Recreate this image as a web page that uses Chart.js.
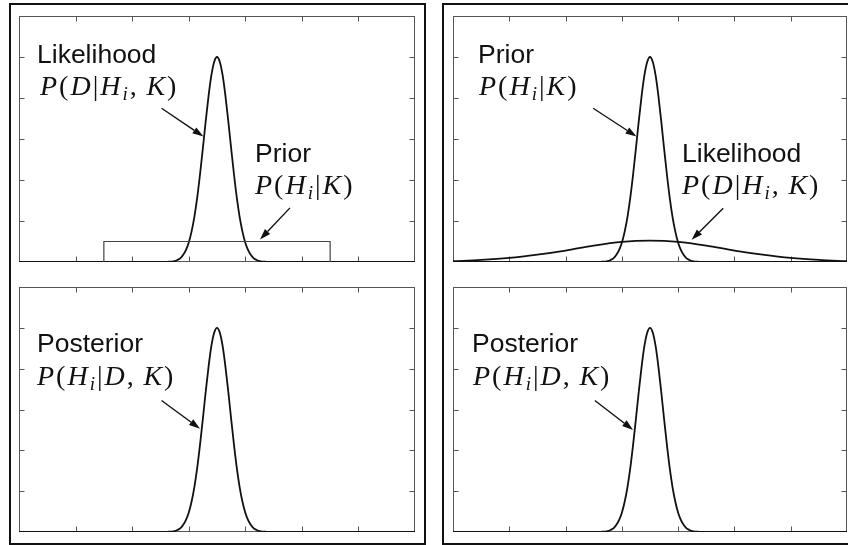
<!DOCTYPE html>
<html>
<head>
<meta charset="utf-8">
<script src="https://cdn.jsdelivr.net/npm/chart.js@4.4.1/dist/chart.umd.min.js"></script>
<style>
  html, body { margin: 0; padding: 0; background: #fff; }
  body { width: 848px; height: 545px; position: relative; overflow: hidden; }
  .panel { position: absolute; border: 2px solid #111; box-sizing: border-box; }
  canvas { position: absolute; }
  .lbl { position: absolute; line-height: 1; white-space: nowrap; color: #111; }
  .sans { font-family: "Liberation Sans", Arial, sans-serif; font-size: 26.5px; }
  .math { font-family: "Liberation Serif", serif; font-size: 28px; letter-spacing: 2px; }
  .math i { font-style: italic; }
  .math sub { font-size: 0.68em; vertical-align: -0.24em; line-height: 0; font-style: italic; }
</style>
</head>
<body>
<div class="panel" style="left:9px;top:3px;width:417px;height:542px"></div>
<div class="panel" style="left:442px;top:3px;width:430px;height:542px"></div>

<canvas id="tl" width="416" height="266" style="left:9px;top:6px"></canvas>
<canvas id="bl" width="416" height="265" style="left:9px;top:277px"></canvas>
<canvas id="tr" width="414" height="266" style="left:443px;top:6px"></canvas>
<canvas id="br" width="414" height="265" style="left:443px;top:277px"></canvas>

<div class="lbl sans" style="left:37px;top:41px">Likelihood</div>
<div class="lbl math" style="left:40px;top:72px"><i>P</i>(<i>D</i>|<i>H</i><sub>i</sub>,&thinsp;<i>K</i>)</div>
<div class="lbl sans" style="left:255px;top:140px">Prior</div>
<div class="lbl math" style="left:255px;top:171px"><i>P</i>(<i>H</i><sub>i</sub>|<i>K</i>)</div>

<div class="lbl sans" style="left:478px;top:41px">Prior</div>
<div class="lbl math" style="left:479px;top:72px"><i>P</i>(<i>H</i><sub>i</sub>|<i>K</i>)</div>
<div class="lbl sans" style="left:682px;top:140px">Likelihood</div>
<div class="lbl math" style="left:682px;top:171px"><i>P</i>(<i>D</i>|<i>H</i><sub>i</sub>,&thinsp;<i>K</i>)</div>

<div class="lbl sans" style="left:37px;top:330px">Posterior</div>
<div class="lbl math" style="left:37px;top:362px"><i>P</i>(<i>H</i><sub>i</sub>|<i>D</i>,&thinsp;<i>K</i>)</div>
<div class="lbl sans" style="left:472px;top:330px">Posterior</div>
<div class="lbl math" style="left:473px;top:362px"><i>P</i>(<i>H</i><sub>i</sub>|<i>D</i>,&thinsp;<i>K</i>)</div>

<script>
// axis ranges and tick positions
const xTicks = [0, 1, 2, 3, 4, 5, 6, 7];
const yTicks = [0, 1, 2, 3, 4, 5, 6];

// narrow peaks around H = 3.5
const peakX = [0,
  2.6, 2.65, 2.7, 2.75, 2.8, 2.85, 2.9, 2.95, 3.0, 3.05, 3.1, 3.15, 3.2, 3.25, 3.3, 3.35, 3.4, 3.45,
  3.5,
  3.55, 3.6, 3.65, 3.7, 3.75, 3.8, 3.85, 3.9, 3.95, 4.0, 4.05, 4.1, 4.15, 4.2, 4.25, 4.3, 4.35, 4.4,
  7];
const likelihoodNarrow = [0,
  0, 0.01, 0.01, 0.02, 0.05, 0.09, 0.17, 0.29, 0.47, 0.74, 1.10, 1.57, 2.14, 2.77, 3.43, 4.04, 4.55, 4.88,
  5.00,
  4.88, 4.55, 4.04, 3.43, 2.77, 2.14, 1.57, 1.10, 0.74, 0.47, 0.29, 0.17, 0.09, 0.05, 0.02, 0.01, 0.01, 0,
  0];
const priorNarrow = [0,
  0, 0.01, 0.01, 0.02, 0.05, 0.09, 0.17, 0.29, 0.47, 0.74, 1.10, 1.57, 2.14, 2.77, 3.43, 4.04, 4.55, 4.88,
  5.00,
  4.88, 4.55, 4.04, 3.43, 2.77, 2.14, 1.57, 1.10, 0.74, 0.47, 0.29, 0.17, 0.09, 0.05, 0.02, 0.01, 0.01, 0,
  0];
const posteriorNarrow = [0,
  0, 0.01, 0.01, 0.02, 0.05, 0.09, 0.17, 0.29, 0.47, 0.74, 1.10, 1.57, 2.14, 2.77, 3.43, 4.04, 4.55, 4.88,
  5.00,
  4.88, 4.55, 4.04, 3.43, 2.77, 2.14, 1.57, 1.10, 0.74, 0.47, 0.29, 0.17, 0.09, 0.05, 0.02, 0.01, 0.01, 0,
  0];

// flat prior (left) and broad likelihood (right)
const boxX = [1.5, 1.5, 5.5, 5.5];
const boxY = [0, 0.5, 0.5, 0];
const broadX = [0, 0.5, 1, 1.5, 2, 2.5, 3, 3.5, 4, 4.5, 5, 5.5, 6, 6.5, 7];
const broadY = [0.02, 0.05, 0.10, 0.18, 0.28, 0.40, 0.49, 0.52, 0.49, 0.40, 0.28, 0.18, 0.10, 0.05, 0.02];

const TICK = 5;

function points(xs, ys) {
  return xs.map((x, i) => ({ x: x, y: ys[i] }));
}

// box with inward ticks on all four sides
const framePlugin = {
  id: 'frame',
  beforeDatasetsDraw(chart) {
    const { ctx, chartArea: a, scales: { x, y } } = chart;
    const l = Math.round(a.left) + 0.5, r = Math.round(a.right) - 0.5;
    const t = Math.round(a.top) + 0.5, b = Math.round(a.bottom) - 0.5;
    ctx.save();
    ctx.strokeStyle = '#555';
    ctx.lineWidth = 1;
    ctx.strokeRect(l, t, r - l, b - t);
    ctx.beginPath();
    xTicks.slice(1, -1).forEach(v => {
      const px = Math.round(x.getPixelForValue(v)) + 0.5;
      ctx.moveTo(px, b); ctx.lineTo(px, b - TICK);
      ctx.moveTo(px, t); ctx.lineTo(px, t + TICK);
    });
    yTicks.slice(1, -1).forEach(v => {
      const py = Math.round(y.getPixelForValue(v)) + 0.5;
      ctx.moveTo(l, py); ctx.lineTo(l + TICK, py);
      ctx.moveTo(r, py); ctx.lineTo(r - TICK, py);
    });
    ctx.stroke();
    ctx.restore();
  }
};

// pointer arrows, given as [fromX, fromY, toX, toY] in data units
const arrowPlugin = {
  id: 'arrows',
  afterDatasetsDraw(chart, args, opts) {
    const { ctx, scales: { x, y } } = chart;
    ctx.save();
    ctx.strokeStyle = '#111';
    ctx.fillStyle = '#111';
    ctx.lineWidth = 1.4;
    (opts.list || []).forEach(a => {
      const x0 = x.getPixelForValue(a[0]), y0 = y.getPixelForValue(a[1]);
      const x1 = x.getPixelForValue(a[2]), y1 = y.getPixelForValue(a[3]);
      const ang = Math.atan2(y1 - y0, x1 - x0);
      const len = 11, half = 3.6;
      const bx = x1 - len * Math.cos(ang), by = y1 - len * Math.sin(ang);
      ctx.beginPath();
      ctx.moveTo(x0, y0);
      ctx.lineTo(bx, by);
      ctx.stroke();
      ctx.beginPath();
      ctx.moveTo(x1, y1);
      ctx.lineTo(bx + half * Math.sin(ang), by - half * Math.cos(ang));
      ctx.lineTo(bx - half * Math.sin(ang), by + half * Math.cos(ang));
      ctx.closePath();
      ctx.fill();
    });
    ctx.restore();
  }
};

function curve(data, opts) {
  return Object.assign({
    data: data,
    showLine: true,
    borderColor: '#111',
    borderWidth: 1.8,
    pointRadius: 0,
    cubicInterpolationMode: 'monotone',
    fill: false
  }, opts || {});
}

function makeChart(id, datasets, arrows) {
  return new Chart(document.getElementById(id), {
    type: 'scatter',
    data: { datasets: datasets },
    options: {
      responsive: false,
      animation: false,
      devicePixelRatio: 1,
      layout: { padding: 10 },
      scales: {
        x: { type: 'linear', min: xTicks[0], max: xTicks[xTicks.length - 1], display: false },
        y: { type: 'linear', min: yTicks[0], max: yTicks[yTicks.length - 1], display: false }
      },
      plugins: {
        legend: { display: false },
        tooltip: { enabled: false },
        arrows: { list: arrows }
      }
    },
    plugins: [framePlugin, arrowPlugin]
  });
}

makeChart('tl', [
  curve(points(boxX, boxY), { borderColor: '#444', borderWidth: 1.2, cubicInterpolationMode: 'default', tension: 0 }),
  curve(points(peakX, likelihoodNarrow))
], [[2.52, 3.75, 3.26, 3.06], [4.79, 1.32, 4.26, 0.55]]);

makeChart('tr', [
  curve(points(broadX, broadY)),
  curve(points(peakX, priorNarrow))
], [[2.49, 3.75, 3.26, 3.06], [4.80, 1.31, 4.24, 0.54]]);

makeChart('bl', [curve(points(peakX, posteriorNarrow))], [[2.52, 3.22, 3.20, 2.53]]);
makeChart('br', [curve(points(peakX, posteriorNarrow))], [[2.52, 3.22, 3.20, 2.50]]);
</script>
</body>
</html>
